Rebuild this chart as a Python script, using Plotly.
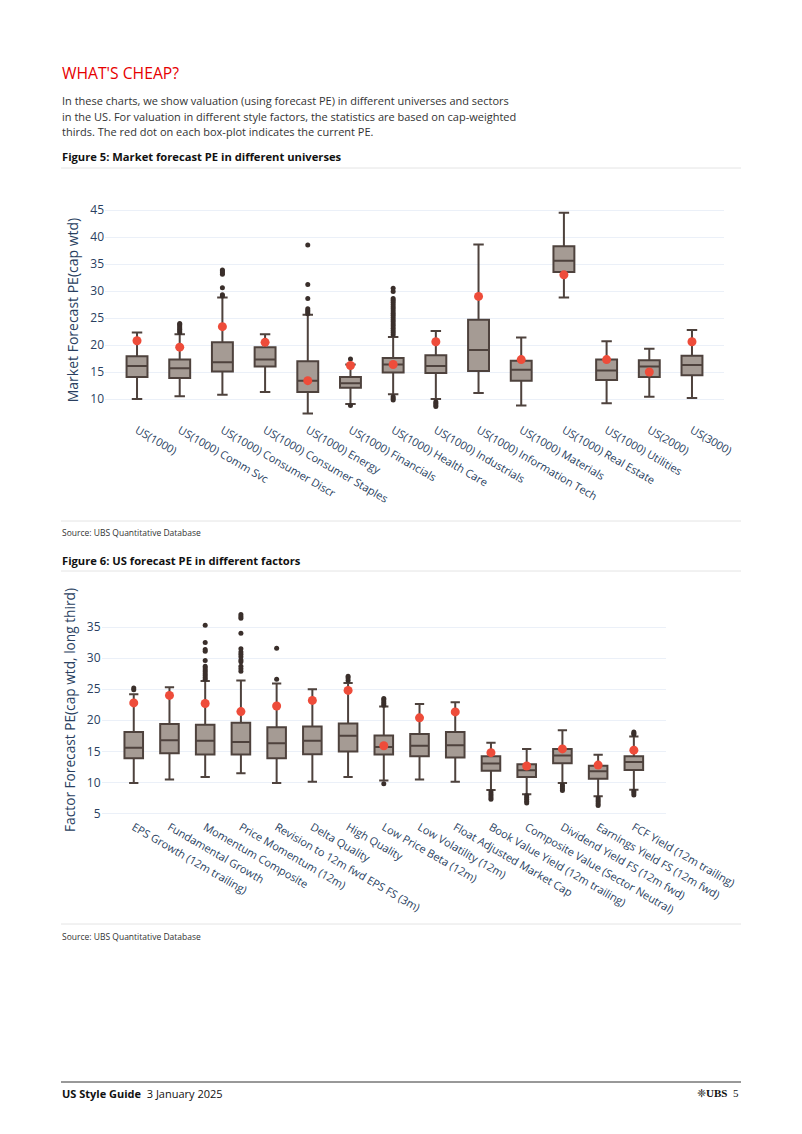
import plotly.graph_objects as go

W, H = 802, 1134

# ---------------- Figure 5 data ----------------
universes = ["US(1000)", "US(1000) Comm Svc", "US(1000) Consumer Discr", "US(1000) Consumer Staples",
             "US(1000) Energy", "US(1000) Financials", "US(1000) Health Care", "US(1000) Industrials",
             "US(1000) Information Tech", "US(1000) Materials", "US(1000) Real Estate",
             "US(1000) Utilities", "US(2000)", "US(3000)"]
u_low = [10.0, 10.5, 10.8, 11.3, 7.3, 9.1, 10.9, 10.0, 11.1, 8.8, 28.8, 9.2, 10.4, 10.2]
u_q1 = [14.1, 13.9, 15.1, 16.0, 11.3, 12.1, 14.9, 14.8, 15.2, 13.4, 33.5, 13.5, 14.1, 14.4]
u_med = [16.1, 15.7, 16.8, 17.3, 13.4, 12.9, 16.4, 16.1, 19.1, 15.4, 35.6, 15.3, 16.0, 16.3]
u_q3 = [17.9, 17.3, 20.5, 19.6, 17.0, 14.1, 17.6, 18.1, 24.7, 17.1, 38.3, 17.3, 17.2, 18.0]
u_high = [22.3, 22.0, 28.8, 22.0, 25.6, 16.4, 21.5, 22.6, 38.6, 21.4, 44.5, 20.7, 19.3, 22.8]
u_current = [20.8, 19.6, 23.4, 20.5, 13.4, 16.2, 16.4, 20.6, 29.0, 17.3, 33.0, 17.3, 15.0, 20.6]
u_out_cat = (["US(1000) Comm Svc"] * 7 + ["US(1000) Consumer Discr"] * 7 + ["US(1000) Energy"] * 7
             + ["US(1000) Financials"] * 2 + ["US(1000) Health Care"] * 23 + ["US(1000) Industrials"] * 4)
u_out_val = ([22.3, 22.6, 22.9, 23.2, 23.5, 23.8, 24.0]
             + [29.1, 29.3, 30.6, 33.1, 33.4, 33.7, 33.9]
             + [25.8, 26.1, 26.4, 26.7, 28.6, 31.2, 38.5]
             + [17.4, 8.8]
             + [21.9, 22.3, 22.7, 23.1, 23.5, 23.9, 24.3, 24.7, 25.1, 25.5, 25.9, 26.3, 26.7, 27.1,
                27.5, 27.9, 28.3, 28.6, 29.9, 30.5, 10.4, 10.1, 9.8]
             + [9.5, 9.2, 8.9, 8.6])
u_ticks = [10, 15, 20, 25, 30, 35, 40, 45]

# ---------------- Figure 6 data ----------------
factors = ["EPS Growth (12m trailing)", "Fundamental Growth", "Momentum Composite", "Price Momentum (12m)",
           "Revision to 12m fwd EPS FS (3m)", "Delta Quality", "High Quality", "Low Price Beta (12m)",
           "Low Volatility (12m)", "Float Adjusted Market Cap", "Book Value Yield (12m trailing)",
           "Composite Value (Sector Neutral)", "Dividend Yield FS (12m fwd)", "Earnings Yield FS (12m fwd)",
           "FCF Yield (12m trailing)"]
f_low = [9.9, 10.5, 10.9, 11.5, 9.9, 10.1, 10.9, 10.3, 10.5, 10.1, 8.8, 8.1, 9.9, 7.8, 8.85]
f_q1 = [13.9, 14.7, 14.5, 14.5, 13.9, 14.55, 15.0, 14.5, 14.2, 14.0, 11.9, 10.9, 13.1, 10.6, 12.0]
f_med = [15.6, 16.8, 16.7, 16.5, 16.3, 16.7, 17.5, 15.7, 15.9, 16.0, 13.05, 11.95, 14.35, 11.8, 13.3]
f_q3 = [18.1, 19.4, 19.3, 19.6, 18.9, 19.0, 19.5, 17.55, 17.8, 18.1, 14.2, 12.95, 15.4, 12.7, 14.2]
f_high = [24.2, 25.3, 26.3, 26.4, 25.9, 25.0, 26.0, 22.2, 22.6, 22.9, 16.4, 15.4, 18.4, 14.45, 17.4]
f_current = [22.8, 24.0, 22.7, 21.4, 22.3, 23.2, 24.8, 15.9, 20.4, 21.35, 14.8, 12.65, 15.4, 12.8, 15.2]
f_out_cat = (["EPS Growth (12m trailing)"] * 2 + ["Momentum Composite"] * 13 + ["Price Momentum (12m)"] * 13
             + ["Revision to 12m fwd EPS FS (3m)"] * 2 + ["High Quality"] * 3 + ["Low Price Beta (12m)"] * 6
             + ["Book Value Yield (12m trailing)"] * 5 + ["Composite Value (Sector Neutral)"] * 5
             + ["Dividend Yield FS (12m fwd)"] * 4 + ["Earnings Yield FS (12m fwd)"] * 5
             + ["FCF Yield (12m trailing)"] * 6)
f_out_val = ([24.9, 25.2]
             + [26.6, 26.9, 27.2, 27.5, 27.8, 28.1, 28.4, 28.7, 29.6, 31.1, 31.4, 32.5, 35.3]
             + [27.9, 28.3, 28.7, 29.4, 29.7, 30.2, 30.6, 31.0, 31.5, 34.0, 36.4, 36.7, 37.0]
             + [26.6, 31.6]
             + [26.4, 26.8, 27.1]
             + [22.4, 22.7, 23.0, 23.3, 23.5, 9.8]
             + [8.5, 8.2, 7.9, 7.6, 7.3]
             + [7.9, 7.6, 7.3, 7.0, 6.7]
             + [9.6, 9.3, 9.0, 8.7]
             + [7.5, 7.2, 6.9, 6.6, 6.3]
             + [17.7, 17.9, 18.1, 8.6, 8.3, 8.0])
f_ticks = [5, 10, 15, 20, 25, 30, 35]

# ---------------- styles ----------------
BOX_FILL = "#a59b94"
BOX_LINE = "#4e423d"
RED = "#ee4c3a"
OUT = "#3a2f2b"
TICK_COL = "#2a3f5f"
FONT = "Open Sans"


def px_x(p):
    return p / W


def px_y(p):
    return 1 - p / H


fig = go.Figure()

# Figure 5 traces
fig.add_trace(go.Box(x=universes, q1=u_q1, median=u_med, q3=u_q3, lowerfence=u_low, upperfence=u_high,
                     fillcolor=BOX_FILL, line=dict(color=BOX_LINE, width=2), width=0.49,
                     whiskerwidth=0.5, boxpoints=False, xaxis="x", yaxis="y", hoverinfo="skip"))
fig.add_trace(go.Scatter(x=u_out_cat, y=u_out_val, mode="markers",
                         marker=dict(color=OUT, size=5), xaxis="x", yaxis="y"))
fig.add_trace(go.Scatter(x=universes, y=u_current, mode="markers",
                         marker=dict(color=RED, size=9), xaxis="x", yaxis="y"))

# Figure 6 traces
fig.add_trace(go.Box(x=factors, q1=f_q1, median=f_med, q3=f_q3, lowerfence=f_low, upperfence=f_high,
                     fillcolor=BOX_FILL, line=dict(color=BOX_LINE, width=2), width=0.52,
                     whiskerwidth=0.5, boxpoints=False, xaxis="x2", yaxis="y2", hoverinfo="skip"))
fig.add_trace(go.Scatter(x=f_out_cat, y=f_out_val, mode="markers",
                         marker=dict(color=OUT, size=5), xaxis="x2", yaxis="y2"))
fig.add_trace(go.Scatter(x=factors, y=f_current, mode="markers",
                         marker=dict(color=RED, size=9), xaxis="x2", yaxis="y2"))

grid = "#EBF0F8"
fig.update_layout(
    template="plotly_white",
    width=W, height=H, autosize=False,
    margin=dict(l=0, r=0, t=0, b=0, pad=0),
    paper_bgcolor="white", plot_bgcolor="white",
    showlegend=False,
    font=dict(family=FONT, color=TICK_COL),
    xaxis=dict(domain=[px_x(105), px_x(724)], range=[-0.75, 13.75], anchor="y", automargin=False,
               tickangle=30, tickfont=dict(size=11, color=TICK_COL), showgrid=False,
               categoryorder="array", categoryarray=universes),
    yaxis=dict(domain=[px_y(421), px_y(199)], range=[5.93, 47.04], anchor="x", automargin=False,
               tickvals=u_ticks, gridcolor=grid, zeroline=False,
               tickfont=dict(size=12, color=TICK_COL),
               title=dict(text="Market Forecast PE(cap wtd)", font=dict(size=14, color=TICK_COL), standoff=8)),
    xaxis2=dict(domain=[px_x(101.6), px_x(666)], range=[-0.9, 14.9], anchor="y2", automargin=False,
                tickangle=30, tickfont=dict(size=11, color=TICK_COL), showgrid=False,
                categoryorder="array", categoryarray=factors),
    yaxis2=dict(domain=[px_y(818), px_y(602)], range=[4.29, 39.02], anchor="x2", automargin=False,
                tickvals=f_ticks, gridcolor=grid, zeroline=False,
                tickfont=dict(size=12, color=TICK_COL),
                title=dict(text="Factor Forecast PE(cap wtd, long third)", font=dict(size=13.7, color=TICK_COL), standoff=8)),
)

TXT = "#333333"


def note(text, x, y, size, color=TXT, bold=False, anchor="left", family=FONT):
    t = f"<b>{text}</b>" if bold else text
    fig.add_annotation(text=t, x=px_x(x), y=px_y(y), xref="paper", yref="paper",
                       xanchor=anchor, yanchor="middle", showarrow=False,
                       font=dict(size=size, color=color, family=family))


note("WHAT'S CHEAP?", 60, 73, 15.7, color="#e60000")
note("In these charts, we show valuation (using forecast PE) in different universes and sectors", 60, 101, 11)
note("in the US. For valuation in different style factors, the statistics are based on cap-weighted", 60, 116, 11)
note("thirds. The red dot on each box-plot indicates the current PE.", 60, 131, 11)
note("Figure 5: Market forecast PE in different universes", 60, 157, 11.2, color="#111111", bold=True)
note("Source: UBS Quantitative Database", 60, 532, 8.5)
note("Figure 6: US forecast PE in different factors", 60, 560, 11.2, color="#111111", bold=True)
note("Source: UBS Quantitative Database", 60, 936, 8.5)
note("<b>US Style Guide</b>  3 January 2025", 60, 1093, 11, color="#111111")
note("\u2748<b>UBS</b>  5", 741, 1093, 11, color="#111111", anchor="right", family="Liberation Serif")


def hline(y, color, width=1):
    fig.add_shape(type="line", xref="paper", yref="paper", x0=px_x(61), x1=px_x(741),
                  y0=px_y(y), y1=px_y(y), line=dict(color=color, width=width))


hline(168, "#e4e4e4")
hline(521, "#e4e4e4")
hline(571, "#e4e4e4")
hline(924, "#e4e4e4")
hline(1082, "#333333")

fig.write_html("out.html")
